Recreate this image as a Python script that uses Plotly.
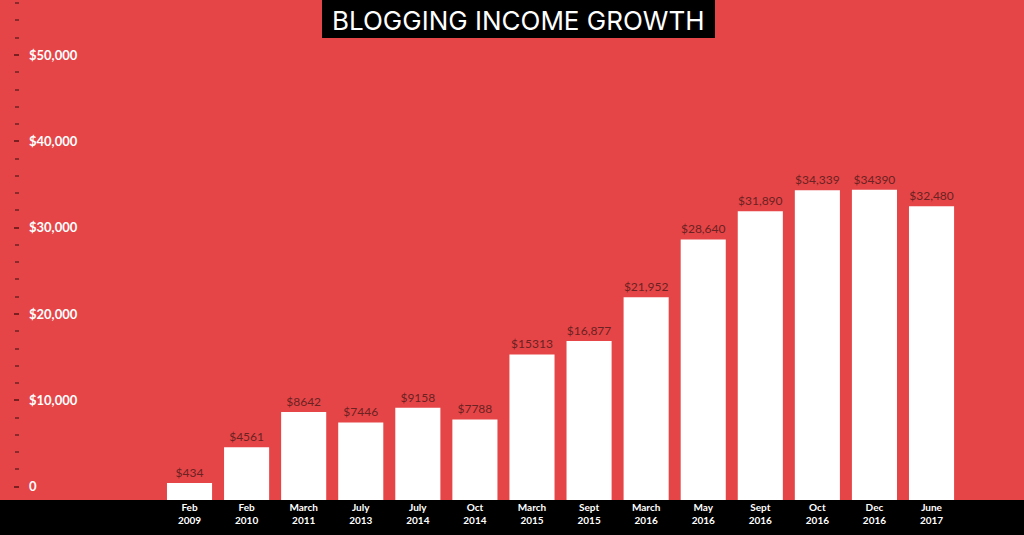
import plotly.graph_objects as go

categories = ["Feb<br>2009", "Feb<br>2010", "March<br>2011", "July<br>2013", "July<br>2014",
              "Oct<br>2014", "March<br>2015", "Sept<br>2015", "March<br>2016", "May<br>2016",
              "Sept<br>2016", "Oct<br>2016", "Dec<br>2016", "June<br>2017"]
income = [434, 4561, 8642, 7446, 9158, 7788, 15313, 16877, 21952, 28640, 31890, 34339, 34390, 32480]
value_labels = ["$434", "$4561", "$8642", "$7446", "$9158", "$7788", "$15313", "$16,877",
                "$21,952", "$28,640", "$31,890", "$34,339", "$34390", "$32,480"]
y_tickvals = [0, 10000, 20000, 30000, 40000, 50000]
y_ticktext = ["0", "$10,000", "$20,000", "$30,000", "$40,000", "$50,000"]

RED = "#E64547"
BASE = -1540
W, H = 1024, 535
ML, MR, MT, MB = 20, 0, 0, 35
PW, PH = W - ML - MR, H - MT - MB

fig = go.Figure()
fig.add_trace(go.Bar(
    x=list(range(len(categories))),
    y=[v - BASE for v in income],
    base=BASE,
    marker=dict(color="white", line=dict(width=0)),
    text=value_labels,
    textposition="outside",
    cliponaxis=False,
    textfont=dict(family="Lato", size=12, color="#6a2222"),
    width=0.79,
    hoverinfo="skip",
))

# black bottom band
fig.add_shape(type="rect", xref="paper", yref="paper",
              x0=-ML / PW, x1=1 + MR / PW, y0=-MB / PH, y1=0,
              fillcolor="black", line=dict(width=0), layer="below")
# title box
fig.add_shape(type="rect", xref="paper", yref="paper",
              x0=(322 - ML) / PW, x1=(715 - ML) / PW, y0=1 - 38 / PH, y1=1,
              fillcolor="black", line=dict(width=0))
fig.add_annotation(text="BLOGGING INCOME GROWTH", xref="paper", yref="paper",
                   x=(518.5 - ML) / PW, y=1 - 20 / PH, showarrow=False,
                   xanchor="center", yanchor="middle",
                   font=dict(family="Inter", size=26, color="white", weight=400))

fig.update_layout(
    width=W, height=H,
    margin=dict(l=ML, r=MR, t=MT, b=MB),
    paper_bgcolor=RED, plot_bgcolor=RED,
    showlegend=False,
    xaxis=dict(
        range=[-2.97, 14.62],
        tickmode="array",
        tickvals=list(range(len(categories))),
        ticktext=categories,
        tickfont=dict(family="Lato", size=10, color="white", weight="bold"),
        showgrid=False, zeroline=False, showline=False, ticks="",
        fixedrange=True,
    ),
    yaxis=dict(
        range=[BASE, 56370],
        tickmode="array",
        tickvals=y_tickvals,
        ticktext=y_ticktext,
        tickfont=dict(family="Lato", size=13, color="white", weight="bold"),
        ticklabelposition="inside",
        ticklabelstandoff=6,
        ticks="outside", ticklen=5, tickwidth=2, tickcolor="#7a2020",
        minor=dict(dtick=2000, tick0=0, ticks="outside", ticklen=4, tickwidth=1.5,
                   tickcolor="#8a2a2a"),
        showgrid=False, zeroline=False, showline=False,
        fixedrange=True,
    ),
)

fig.write_html("out.html", config={"displayModeBar": False},
               post_script="document.body.style.margin='0';document.body.style.overflow='hidden';")
